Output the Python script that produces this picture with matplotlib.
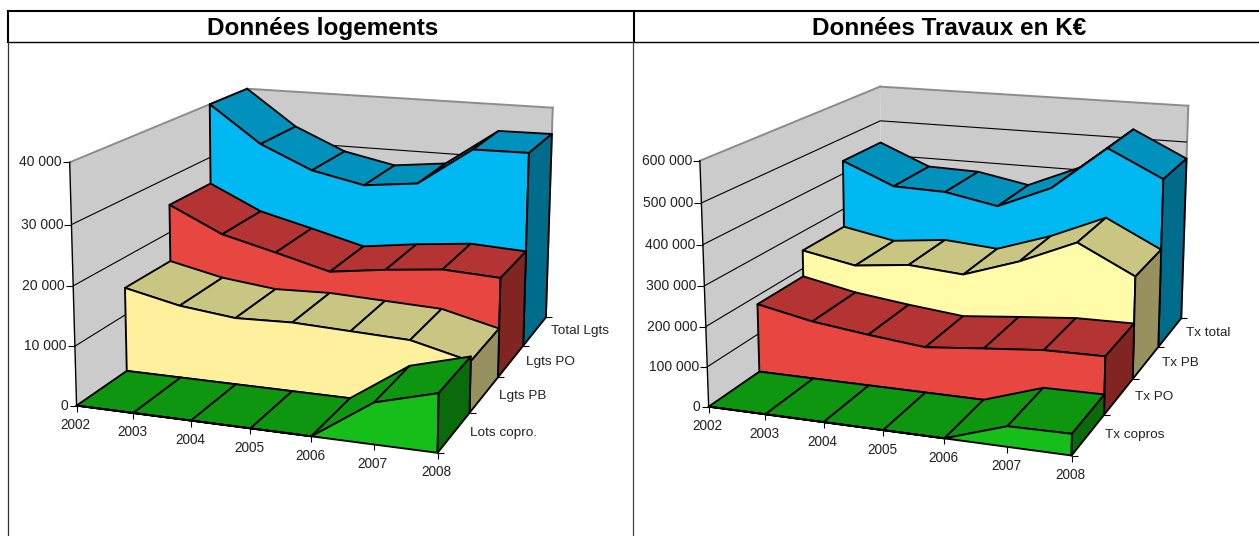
import numpy as np
import matplotlib
matplotlib.use('Agg')
import matplotlib.pyplot as plt
from matplotlib.patches import Polygon

plt.rcParams['font.family'] = ['Liberation Sans', 'DejaVu Sans']

years = [2002, 2003, 2004, 2005, 2006, 2007, 2008]

# Left chart, front row first
lots_copro = [0, 0, 0, 0, 0, 6700, 9400]
lgts_pb = [14700, 12600, 11500, 11800, 11400, 11000, 8600]
lgts_po = [25000, 20500, 18100, 15600, 16900, 17900, 17400]
total_lgts = [40000, 33200, 29000, 27000, 28100, 35000, 35100]
left_names = ['Lots copro.', 'Lgts PB', 'Lgts PO', 'Total Lgts']
left_yticks = [0, 10000, 20000, 30000, 40000]

# Right chart, front row first
tx_copros = [0, 0, 0, 0, 0, 49000, 51000]
tx_po = [178000, 149000, 131000, 116000, 130000, 143000, 145000]
tx_pb = [249000, 222000, 238000, 227000, 276000, 339000, 266000]
tx_total = [436000, 376000, 372000, 345000, 407000, 525000, 454000]
right_names = ['Tx copros', 'Tx PO', 'Tx PB', 'Tx total']
right_yticks = [0, 100000, 200000, 300000, 400000, 500000, 600000]

green = ('#16BE1A', '#0F9610', '#0A6B0B')
yellow_l = ('#FFF09E', '#C9C683', '#979160')
yellow_r = ('#FFFBA8', '#C9C683', '#979160')
red = ('#E84640', '#B43433', '#812522')
blue = ('#00B9F2', '#0091BC', '#006C8C')

# pixel anchors of the 3d box: (year frac, depth frac, height frac) -> pixel
left_anchors = [
    (0, 0, 0, 79, 405), (1, 0, 0, 437, 453), (1, 1, 0, 545, 318), (0, 1, 0, 249, 286),
    (0, 0, 1, 68, 162), (0, 1, 1, 249, 89), (1, 1, 1, 552, 107),
    (0, .25, 0, 126, 372), (0, .5, 0, 170, 340), (0, .75, 0, 210, 312),
    (1, .25, 0, 468, 413), (1, .5, 0, 500, 377), (1, .75, 0, 524, 346),
    (.5, 0, 0, 252, 428), (0, .75, 1, 210, 105),
]
right_anchors = [
    (0, 0, 0, 710, 407), (1, 0, 0, 1071, 455), (1, 1, 0, 1182, 318), (0, 1, 0, 881, 287),
    (0, 0, 1, 699, 160), (0, 1, 1, 881, 87), (1, 1, 1, 1188, 106),
    (0, .25, 0, 760, 372), (0, .5, 0, 804, 340), (0, .75, 0, 845, 312),
    (1, .25, 0, 1104, 415), (1, .5, 0, 1133, 379), (1, .75, 0, 1158, 347),
    (.5, 0, 0, 883, 431),
]


def fit_projection(anchors):
    rows, rhs = [], []
    for u, v, w, px, py in anchors:
        rows.append([u, v, w, 1, 0, 0, 0, 0, -px*u, -px*v, -px*w])
        rows.append([0, 0, 0, 0, u, v, w, 1, -py*u, -py*v, -py*w])
        rhs += [px, py]
    sol = np.linalg.lstsq(np.array(rows, float), np.array(rhs, float), rcond=None)[0]
    return np.append(sol, 1).reshape(3, 4)


def draw_chart(ax, anchors, series, colors, names, yticks, name_offsets):
    P = fit_projection(anchors)
    ymax = yticks[-1]

    def pr(u, v, w):
        x, y, s = P @ np.array([u, v, w, 1.0])
        return x/s, y/s

    line = dict(edgecolor='black', linewidth=1.35, joinstyle='round', zorder=3)
    thin = dict(color='black', linewidth=0.8, solid_capstyle='butt', zorder=2)

    # walls
    ax.add_patch(Polygon([pr(0, 0, 0), pr(0, 1, 0), pr(0, 1, 1), pr(0, 0, 1)], facecolor='#CBCBCB', edgecolor='none', zorder=1))
    ax.add_patch(Polygon([pr(0, 1, 0), pr(1, 1, 0), pr(1, 1, 1), pr(0, 1, 1)], facecolor='#CBCBCB', edgecolor='none', zorder=1))
    for a, b in [((0, 0, 1), (0, 1, 1)), ((0, 1, 1), (1, 1, 1)), ((1, 1, 1), (1, 1, 0))]:
        xa, ya = pr(*a)
        xb, yb = pr(*b)
        ax.plot([xa, xb], [ya, yb], color='#8C8C8C', linewidth=1.4, zorder=2)

    for t in yticks:
        w = t/ymax
        if t > 0 and t < ymax:
            pts = [pr(0, 0, w), pr(0, 1, w), pr(1, 1, w)]
            ax.plot(*zip(*pts), **thin)
        x0, y0 = pr(0, 0, w)
        ax.plot([x0-7, x0], [y0, y0], **thin)
        ax.text(x0-8, y0, f'{t:,}'.replace(',', ' '), ha='right', va='center', fontsize=10, color='#222222')

    # left axis line
    ax.plot(*zip(pr(0, 0, 0), pr(0, 0, 1)), color='black', linewidth=1.0, zorder=2)

    # ribbons back to front
    n = len(years)
    us = [i/(n-1) for i in range(n)]
    for k in reversed(range(len(series))):
        vals = [s/ymax for s in series[k]]
        v0, v1 = k/4, (k+1)/4
        front_c, top_c, side_c = colors[k]
        for i in range(n-1):
            quad = [pr(us[i], v0, vals[i]), pr(us[i+1], v0, vals[i+1]),
                    pr(us[i+1], v1, vals[i+1]), pr(us[i], v1, vals[i])]
            ax.add_patch(Polygon(quad, facecolor=top_c, **line))
        face = [pr(u, v0, 0) for u in us] + [pr(u, v0, h) for u, h in zip(us[::-1], vals[::-1])]
        ax.add_patch(Polygon(face, facecolor=front_c, **line))
        side = [pr(1, v0, 0), pr(1, v1, 0), pr(1, v1, vals[-1]), pr(1, v0, vals[-1])]
        ax.add_patch(Polygon(side, facecolor=side_c, **line))

    # year ticks and labels
    for u, yr in zip(us, years):
        x0, y0 = pr(u, 0, 0)
        ax.plot([x0, x0], [y0, y0+6], **thin)
        ax.text(x0-1, y0+19.5, str(yr), ha='center', va='center', fontsize=9.8, color='#222222')

    # series ticks and labels
    for k, name in enumerate(names):
        x0, y0 = pr(1, (k+1)/4, 0)
        ax.plot([x0, x0+6], [y0, y0], **thin)
        dx, dy = name_offsets[k]
        ax.text(x0+dx, y0+dy, name, ha='left', va='center', fontsize=9.7, color='#222222')
    x0, y0 = pr(1, 0, 0)
    ax.plot([x0, x0+6], [y0, y0], **thin)


fig = plt.figure(figsize=(12.59, 5.36), dpi=100)
ax = fig.add_axes([0, 0, 1, 1])
ax.set_xlim(0, 1259)
ax.set_ylim(536, 0)
ax.axis('off')

draw_chart(ax, left_anchors, [lots_copro, lgts_pb, lgts_po, total_lgts],
           [green, yellow_l, red, blue], left_names, left_yticks,
           [(0, 20), (1, 19), (3, 16), (5, 14)])
draw_chart(ax, right_anchors, [tx_copros, tx_po, tx_pb, tx_total],
           [green, red, yellow_r, blue], right_names, right_yticks,
           [(1, 20), (2, 18), (4, 16), (5, 15)])

# table frame
frame = dict(color='black', zorder=4)
ax.plot([8, 1259], [11, 11], linewidth=1.5, **frame)
ax.plot([8, 1259], [41.5, 41.5], linewidth=1.0, **frame)
ax.plot([8.5, 8.5], [11, 42], linewidth=1.5, **frame)
ax.plot([8, 8], [42, 536], linewidth=0.9, color='#333333', zorder=4)
ax.plot([634.5, 634.5], [11, 42], linewidth=1.5, **frame)
ax.plot([633.5, 633.5], [42, 536], linewidth=0.9, color='#444444', zorder=4)

ax.text(323, 35, 'Données logements', ha='center', va='baseline', fontsize=17.5, fontweight='bold', color='black')
ax.text(949, 35, 'Données Travaux en K€', ha='center', va='baseline', fontsize=17.5, fontweight='bold', color='black')

fig.savefig('out.png', dpi=100)
